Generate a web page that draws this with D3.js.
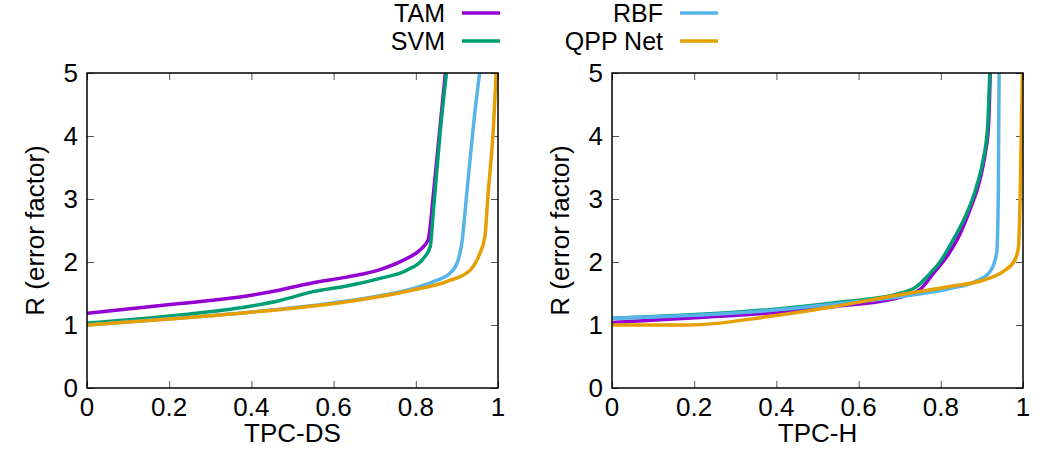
<!DOCTYPE html>
<html>
<head>
<meta charset="utf-8">
<script src="https://d3js.org/d3.v7.min.js"></script>
<style>
  body { margin: 0; background: #fff; }
  svg { font-family: "Liberation Sans", Arial, sans-serif; }
</style>
</head>
<body>
<div id="center"></div>
<script>
// fraction of queries (x) vs error factor R (y)
const seriesNames = ["TAM", "SVM", "RBF", "QPP Net"];
const xTicks = [0, 0.2, 0.4, 0.6, 0.8, 1];
const yTicks = [0, 1, 2, 3, 4, 5];

const dsTAM = [[0, 1.185], [0.226, 1.34], [0.389, 1.46], [0.47, 1.556], [0.55, 1.67], [0.632, 1.76], [0.713, 1.88], [0.77, 2.03], [0.81, 2.19], [0.83, 2.35], [0.843, 3.09], [0.859, 4.15], [0.875, 5.2]];
const dsSVM = [[0, 1.03], [0.226, 1.16], [0.389, 1.29], [0.47, 1.39], [0.55, 1.53], [0.632, 1.62], [0.713, 1.74], [0.778, 1.87], [0.819, 2.06], [0.835, 2.24], [0.843, 2.83], [0.859, 4.04], [0.878, 5.2]];
const dsRBF = [[0, 1.0], [0.226, 1.11], [0.389, 1.2], [0.55, 1.31], [0.672, 1.42], [0.794, 1.58], [0.843, 1.69], [0.883, 1.82], [0.903, 2.03], [0.912, 2.3], [0.924, 3.09], [0.94, 4.15], [0.959, 5.2]];
const dsQPP = [[0, 1.0], [0.226, 1.106], [0.389, 1.196], [0.55, 1.3], [0.672, 1.41], [0.794, 1.556], [0.875, 1.69], [0.932, 1.87], [0.956, 2.14], [0.968, 2.4], [0.976, 3.09], [0.989, 4.15], [0.997, 5.2]];

const hTAM = [[0, 1.04], [0.214, 1.12], [0.376, 1.185], [0.538, 1.29], [0.70, 1.44], [0.749, 1.56], [0.782, 1.82], [0.814, 2.08], [0.847, 2.45], [0.871, 2.83], [0.895, 3.3], [0.908, 3.72], [0.916, 4.15], [0.921, 5.2]];
const hSVM = [[0, 1.106], [0.376, 1.24], [0.538, 1.35], [0.70, 1.5], [0.741, 1.61], [0.774, 1.82], [0.798, 2.0], [0.83, 2.35], [0.863, 2.77], [0.887, 3.2], [0.903, 3.62], [0.914, 4.15], [0.92, 5.2]];
const hRBF = [[0, 1.106], [0.376, 1.227], [0.538, 1.33], [0.70, 1.45], [0.822, 1.58], [0.887, 1.7], [0.92, 1.85], [0.936, 2.14], [0.94, 3.09], [0.942, 5.2]];
const hQPP = [[0, 1.0], [0.19, 1.0], [0.376, 1.13], [0.538, 1.29], [0.70, 1.48], [0.822, 1.61], [0.903, 1.71], [0.952, 1.85], [0.98, 2.03], [0.989, 2.24], [0.993, 2.98], [0.999, 5.2]];

const colors = ["#9400d3", "#009e73", "#56b4e9", "#e69f00"];

const width = 1050, height = 450;
const svg = d3.select("#center").append("svg")
    .attr("width", width)
    .attr("height", height);

const panels = [
    { left: 87, title: "TPC-DS", data: [dsTAM, dsSVM, dsRBF, dsQPP] },
    { left: 612, title: "TPC-H", data: [hTAM, hSVM, hRBF, hQPP] }
];
const plotW = 411, plotTop = 73, plotBottom = 388;

panels.forEach(function (p, i) {
    let x = d3.scaleLinear().domain([0, 1]).range([p.left, p.left + plotW]);
    let y = d3.scaleLinear().domain([0, 5]).range([plotBottom, plotTop]);
    let g = svg.append("g");

    g.append("clipPath").attr("id", "clip" + i)
        .append("rect")
        .attr("x", p.left).attr("y", plotTop)
        .attr("width", plotW).attr("height", plotBottom - plotTop);

    // inward ticks on all four sides
    g.append("g").attr("transform", "translate(0," + plotBottom + ")")
        .call(d3.axisBottom(x).tickValues(xTicks).tickSize(-7).tickFormat(""))
        .call(a => a.select(".domain").remove());
    g.append("g").attr("transform", "translate(0," + plotTop + ")")
        .call(d3.axisTop(x).tickValues(xTicks).tickSize(-7).tickFormat(""))
        .call(a => a.select(".domain").remove());
    g.append("g").attr("transform", "translate(" + p.left + ",0)")
        .call(d3.axisLeft(y).tickValues(yTicks).tickSize(-7).tickFormat(""))
        .call(a => a.select(".domain").remove());
    g.append("g").attr("transform", "translate(" + (p.left + plotW) + ",0)")
        .call(d3.axisRight(y).tickValues(yTicks).tickSize(-7).tickFormat(""))
        .call(a => a.select(".domain").remove());
    g.selectAll(".tick line").attr("stroke", "#555").attr("stroke-width", 1);

    // tick labels
    g.selectAll(".xlab").data(xTicks).enter().append("text")
        .attr("x", d => x(d)).attr("y", plotBottom + 28)
        .attr("text-anchor", "middle")
        .style("font-size", "26px")
        .text(d => d3.format("")(d));
    g.selectAll(".ylab").data(yTicks).enter().append("text")
        .attr("x", p.left - 9).attr("y", d => y(d) + 9)
        .attr("text-anchor", "end")
        .style("font-size", "26px")
        .text(d => d);

    let line = d3.line()
        .x(d => x(d[0]))
        .y(d => y(d[1]))
        .curve(d3.curveMonotoneX);
    g.append("g").attr("clip-path", "url(#clip" + i + ")")
        .selectAll("path").data(p.data).enter().append("path")
        .attr("d", line)
        .attr("fill", "none")
        .attr("stroke", (d, k) => colors[k])
        .attr("stroke-width", 3.5);

    g.append("rect")
        .attr("x", p.left).attr("y", plotTop)
        .attr("width", plotW).attr("height", plotBottom - plotTop)
        .attr("fill", "none").attr("stroke", "#000").attr("stroke-width", 1.5);

    g.append("text")
        .attr("x", p.left + plotW / 2).attr("y", 442)
        .attr("text-anchor", "middle")
        .style("font-size", "26px")
        .text(p.title);
    g.append("text")
        .attr("transform", "translate(" + (p.left - 43) + "," + ((plotTop + plotBottom) / 2) + ") rotate(-90)")
        .attr("text-anchor", "middle")
        .style("font-size", "26px")
        .text("R (error factor)");
});

// legend, two columns
const legendPos = [[445, 13], [445, 41], [663, 13], [663, 41]];
seriesNames.forEach(function (name, k) {
    let lx = legendPos[k][0], ly = legendPos[k][1];
    svg.append("text")
        .attr("x", lx).attr("y", ly + 9)
        .attr("text-anchor", "end")
        .style("font-size", "25px")
        .text(name);
    svg.append("line")
        .attr("x1", lx + 17).attr("x2", lx + 55)
        .attr("y1", ly).attr("y2", ly)
        .attr("stroke", colors[k]).attr("stroke-width", 3.5);
});
</script>
</body>
</html>
